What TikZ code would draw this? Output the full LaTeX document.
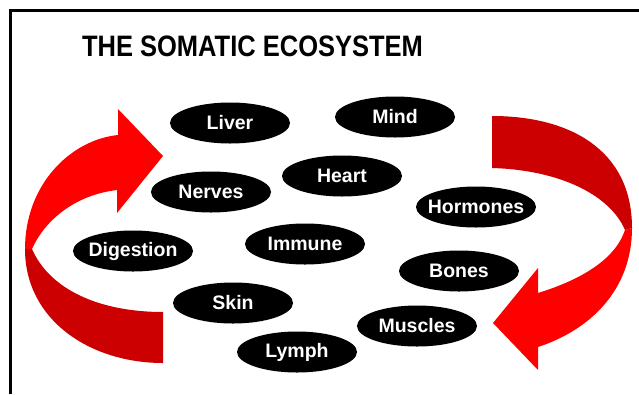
\documentclass[tikz,border=0pt]{standalone}
\usepackage{fontspec}
\setmainfont{Liberation Sans}
\usepackage{tikz}
\usetikzlibrary{shapes.geometric}
\definecolor{brightred}{RGB}{255,0,0}
\definecolor{darkred}{RGB}{204,0,0}
\tikzset{
  organ/.style={ellipse, fill=black, minimum width=120pt, minimum height=41pt,
    inner xsep=-8pt, inner ysep=0pt, text=white, font=\fontsize{19.5}{20}\selectfont\bfseries}
}

\begin{document}
\begin{tikzpicture}[x=1pt,y=-1pt]
  \useasboundingbox (0,0) rectangle (639,394);
  % frame
  \draw[line width=3pt] (10.5,394) -- (10.5,10.5) -- (639,10.5);
  % title
  \node (title) at (252.5,46.5) {\scalebox{1}[1.16]{\fontsize{25.5}{26}\selectfont\bfseries THE SOMATIC ECOSYSTEM}};
  % left arrow: back half, then front half with head
  \fill[darkred] (25,249) .. controls (25,320) and (90,363) .. (163,363) -- (163,312)
    .. controls (100,312) and (50,290) .. (32,249) -- cycle;
  \fill[brightred] (25,249) .. controls (25,185) and (70,140) .. (118,135) -- (118,109)
    -- (163,156) -- (117,213) -- (117,190) .. controls (75,195) and (45,220) .. (32,249) -- cycle;
  % right arrow
  \fill[darkred] (492,116) .. controls (570,116) and (632,150) .. (632,228) -- (625,230)
    .. controls (610,195) and (560,170) .. (492,168) -- cycle;
  \fill[brightred] (632,228) .. controls (632,290) and (590,330) .. (538,347) -- (538,370)
    -- (493,323) -- (538,268) -- (538,293) .. controls (580,280) and (615,260) .. (625,230) -- cycle;
  % body systems
  \node[organ] (liver) at (230,123) {Liver};
  \node[organ] (mind) at (395,117) {Mind};
  \node[organ] (heart) at (342,176) {Heart};
  \node[organ] (nerves) at (211,192) {Nerves};
  \node[organ] (hormones) at (476,207) {Hormones};
  \node[organ] (digestion) at (133,251) {Digestion};
  \node[organ] (immune) at (305,244) {Immune};
  \node[organ] (bones) at (459,271) {Bones};
  \node[organ] (skin) at (233,303) {Skin};
  \node[organ] (muscles) at (417,326) {Muscles};
  \node[organ] (lymph) at (297,352) {Lymph};
\end{tikzpicture}
\end{document}
